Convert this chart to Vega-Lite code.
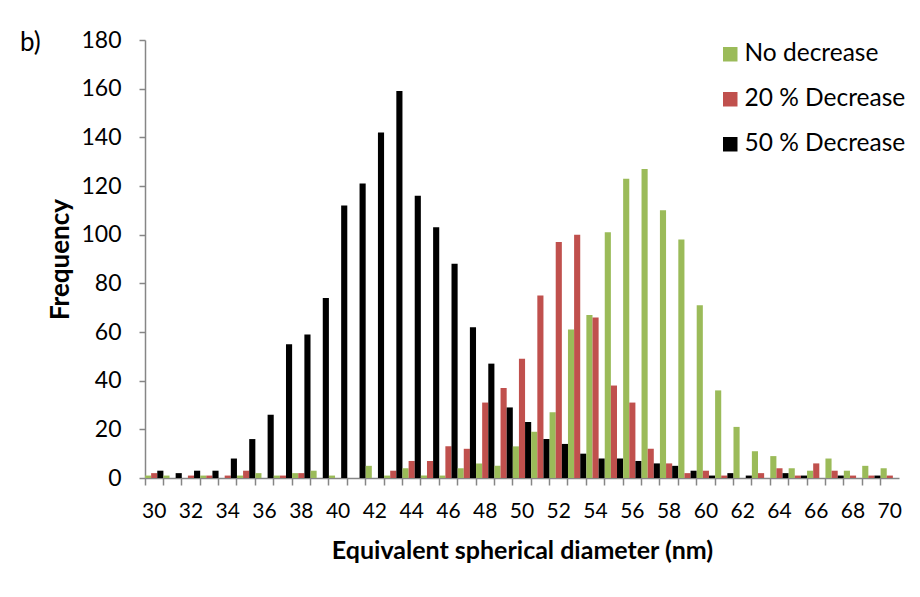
{
  "$schema": "https://vega.github.io/schema/vega-lite/v6.json",
  "width": 754,
  "height": 438,
  "autosize": {"type": "none"},
  "padding": {"left": 145, "top": 40, "right": 21, "bottom": 119},
  "background": "white",
  "title": {"text": "b)", "anchor": "start", "frame": "bounds", "orient": "top", "font": "Lato", "fontSize": 26, "fontWeight": "normal", "color": "#000", "dx": -28, "dy": 31},
  "datasets": {
    "bars": [
      {"d":30,"s":"No decrease","n":1},{"d":30,"s":"20 % Decrease","n":2},{"d":30,"s":"50 % Decrease","n":3},
      {"d":31,"s":"No decrease","n":1},{"d":31,"s":"20 % Decrease","n":0},{"d":31,"s":"50 % Decrease","n":2},
      {"d":32,"s":"No decrease","n":0},{"d":32,"s":"20 % Decrease","n":1},{"d":32,"s":"50 % Decrease","n":3},
      {"d":33,"s":"No decrease","n":1},{"d":33,"s":"20 % Decrease","n":1},{"d":33,"s":"50 % Decrease","n":3},
      {"d":34,"s":"No decrease","n":0},{"d":34,"s":"20 % Decrease","n":1},{"d":34,"s":"50 % Decrease","n":8},
      {"d":35,"s":"No decrease","n":1},{"d":35,"s":"20 % Decrease","n":3},{"d":35,"s":"50 % Decrease","n":16},
      {"d":36,"s":"No decrease","n":2},{"d":36,"s":"20 % Decrease","n":0},{"d":36,"s":"50 % Decrease","n":26},
      {"d":37,"s":"No decrease","n":1},{"d":37,"s":"20 % Decrease","n":1},{"d":37,"s":"50 % Decrease","n":55},
      {"d":38,"s":"No decrease","n":2},{"d":38,"s":"20 % Decrease","n":2},{"d":38,"s":"50 % Decrease","n":59},
      {"d":39,"s":"No decrease","n":3},{"d":39,"s":"20 % Decrease","n":0},{"d":39,"s":"50 % Decrease","n":74},
      {"d":40,"s":"No decrease","n":1},{"d":40,"s":"20 % Decrease","n":0},{"d":40,"s":"50 % Decrease","n":112},
      {"d":41,"s":"No decrease","n":0},{"d":41,"s":"20 % Decrease","n":0},{"d":41,"s":"50 % Decrease","n":121},
      {"d":42,"s":"No decrease","n":5},{"d":42,"s":"20 % Decrease","n":0},{"d":42,"s":"50 % Decrease","n":142},
      {"d":43,"s":"No decrease","n":1},{"d":43,"s":"20 % Decrease","n":3},{"d":43,"s":"50 % Decrease","n":159},
      {"d":44,"s":"No decrease","n":4},{"d":44,"s":"20 % Decrease","n":7},{"d":44,"s":"50 % Decrease","n":116},
      {"d":45,"s":"No decrease","n":1},{"d":45,"s":"20 % Decrease","n":7},{"d":45,"s":"50 % Decrease","n":103},
      {"d":46,"s":"No decrease","n":1},{"d":46,"s":"20 % Decrease","n":13},{"d":46,"s":"50 % Decrease","n":88},
      {"d":47,"s":"No decrease","n":4},{"d":47,"s":"20 % Decrease","n":12},{"d":47,"s":"50 % Decrease","n":62},
      {"d":48,"s":"No decrease","n":6},{"d":48,"s":"20 % Decrease","n":31},{"d":48,"s":"50 % Decrease","n":47},
      {"d":49,"s":"No decrease","n":5},{"d":49,"s":"20 % Decrease","n":37},{"d":49,"s":"50 % Decrease","n":29},
      {"d":50,"s":"No decrease","n":13},{"d":50,"s":"20 % Decrease","n":49},{"d":50,"s":"50 % Decrease","n":23},
      {"d":51,"s":"No decrease","n":19},{"d":51,"s":"20 % Decrease","n":75},{"d":51,"s":"50 % Decrease","n":16},
      {"d":52,"s":"No decrease","n":27},{"d":52,"s":"20 % Decrease","n":97},{"d":52,"s":"50 % Decrease","n":14},
      {"d":53,"s":"No decrease","n":61},{"d":53,"s":"20 % Decrease","n":100},{"d":53,"s":"50 % Decrease","n":10},
      {"d":54,"s":"No decrease","n":67},{"d":54,"s":"20 % Decrease","n":66},{"d":54,"s":"50 % Decrease","n":8},
      {"d":55,"s":"No decrease","n":101},{"d":55,"s":"20 % Decrease","n":38},{"d":55,"s":"50 % Decrease","n":8},
      {"d":56,"s":"No decrease","n":123},{"d":56,"s":"20 % Decrease","n":31},{"d":56,"s":"50 % Decrease","n":7},
      {"d":57,"s":"No decrease","n":127},{"d":57,"s":"20 % Decrease","n":12},{"d":57,"s":"50 % Decrease","n":6},
      {"d":58,"s":"No decrease","n":110},{"d":58,"s":"20 % Decrease","n":6},{"d":58,"s":"50 % Decrease","n":5},
      {"d":59,"s":"No decrease","n":98},{"d":59,"s":"20 % Decrease","n":2},{"d":59,"s":"50 % Decrease","n":3},
      {"d":60,"s":"No decrease","n":71},{"d":60,"s":"20 % Decrease","n":3},{"d":60,"s":"50 % Decrease","n":1},
      {"d":61,"s":"No decrease","n":36},{"d":61,"s":"20 % Decrease","n":1},{"d":61,"s":"50 % Decrease","n":2},
      {"d":62,"s":"No decrease","n":21},{"d":62,"s":"20 % Decrease","n":0},{"d":62,"s":"50 % Decrease","n":1},
      {"d":63,"s":"No decrease","n":11},{"d":63,"s":"20 % Decrease","n":2},{"d":63,"s":"50 % Decrease","n":0},
      {"d":64,"s":"No decrease","n":9},{"d":64,"s":"20 % Decrease","n":4},{"d":64,"s":"50 % Decrease","n":2},
      {"d":65,"s":"No decrease","n":4},{"d":65,"s":"20 % Decrease","n":1},{"d":65,"s":"50 % Decrease","n":1},
      {"d":66,"s":"No decrease","n":3},{"d":66,"s":"20 % Decrease","n":6},{"d":66,"s":"50 % Decrease","n":0},
      {"d":67,"s":"No decrease","n":8},{"d":67,"s":"20 % Decrease","n":3},{"d":67,"s":"50 % Decrease","n":1},
      {"d":68,"s":"No decrease","n":3},{"d":68,"s":"20 % Decrease","n":1},{"d":68,"s":"50 % Decrease","n":0},
      {"d":69,"s":"No decrease","n":5},{"d":69,"s":"20 % Decrease","n":1},{"d":69,"s":"50 % Decrease","n":1},
      {"d":70,"s":"No decrease","n":4},{"d":70,"s":"20 % Decrease","n":1},{"d":70,"s":"50 % Decrease","n":0}
    ]
  },
  "data": {"name": "bars"},
  "mark": {"type": "bar", "strokeWidth": 0},
  "encoding": {
    "x": {
      "field": "d", "type": "ordinal", "sort": "ascending",
      "scale": {"paddingInner": 0, "paddingOuter": 0},
      "axis": {
        "title": "Equivalent spherical diameter (nm)",
        "bandPosition": 0,
        "labelAngle": 0,
        "labelOverlap": false,
        "labelExpr": "datum.value % 2 == 0 ? datum.label : ''",
        "tickSize": 7, "tickWidth": 1.5, "tickColor": "#868686",
        "domainColor": "#868686", "domainWidth": 1.5,
        "labelFont": "Lato", "labelFontSize": 21, "labelColor": "#000", "labelPadding": 15,
        "titleFont": "Lato", "titleFontSize": 25, "titleFontWeight": "bold", "titleColor": "#000", "titlePadding": 17
      }
    },
    "xOffset": {
      "field": "s", "type": "nominal",
      "sort": ["No decrease", "20 % Decrease", "50 % Decrease"],
      "scale": {"paddingInner": 0, "paddingOuter": 0}
    },
    "y": {
      "field": "n", "type": "quantitative",
      "scale": {"domain": [0, 180], "nice": false},
      "axis": {
        "title": "Frequency",
        "values": [0, 20, 40, 60, 80, 100, 120, 140, 160, 180],
        "grid": false,
        "tickSize": 6, "tickWidth": 1.5, "tickColor": "#868686",
        "domainColor": "#868686", "domainWidth": 1.5,
        "labelFont": "Lato", "labelFontSize": 23, "labelColor": "#000", "labelPadding": 18,
        "titleFont": "Lato", "titleFontSize": 26, "titleFontWeight": "bold", "titleColor": "#000", "titlePadding": 7
      }
    },
    "color": {
      "field": "s", "type": "nominal",
      "scale": {"domain": ["No decrease", "20 % Decrease", "50 % Decrease"], "range": ["#9BBB59", "#C0504D", "#000000"]},
      "legend": {
        "title": null,
        "orient": "none", "legendX": 573, "legendY": 2,
        "symbolType": "square", "symbolSize": 210, "symbolStrokeWidth": 0, "symbolOpacity": 1,
        "labelFont": "Lato", "labelFontSize": 24.5, "labelColor": "#000", "labelOffset": 2, "labelLimit": 400,
        "rowPadding": 20,
        "labelExpr": "indexof(datum.label, '20') == 0 ? '\u00a0\u00a0' + datum.label : datum.label"
      }
    }
  },
  "config": {"view": {"stroke": null}}
}
